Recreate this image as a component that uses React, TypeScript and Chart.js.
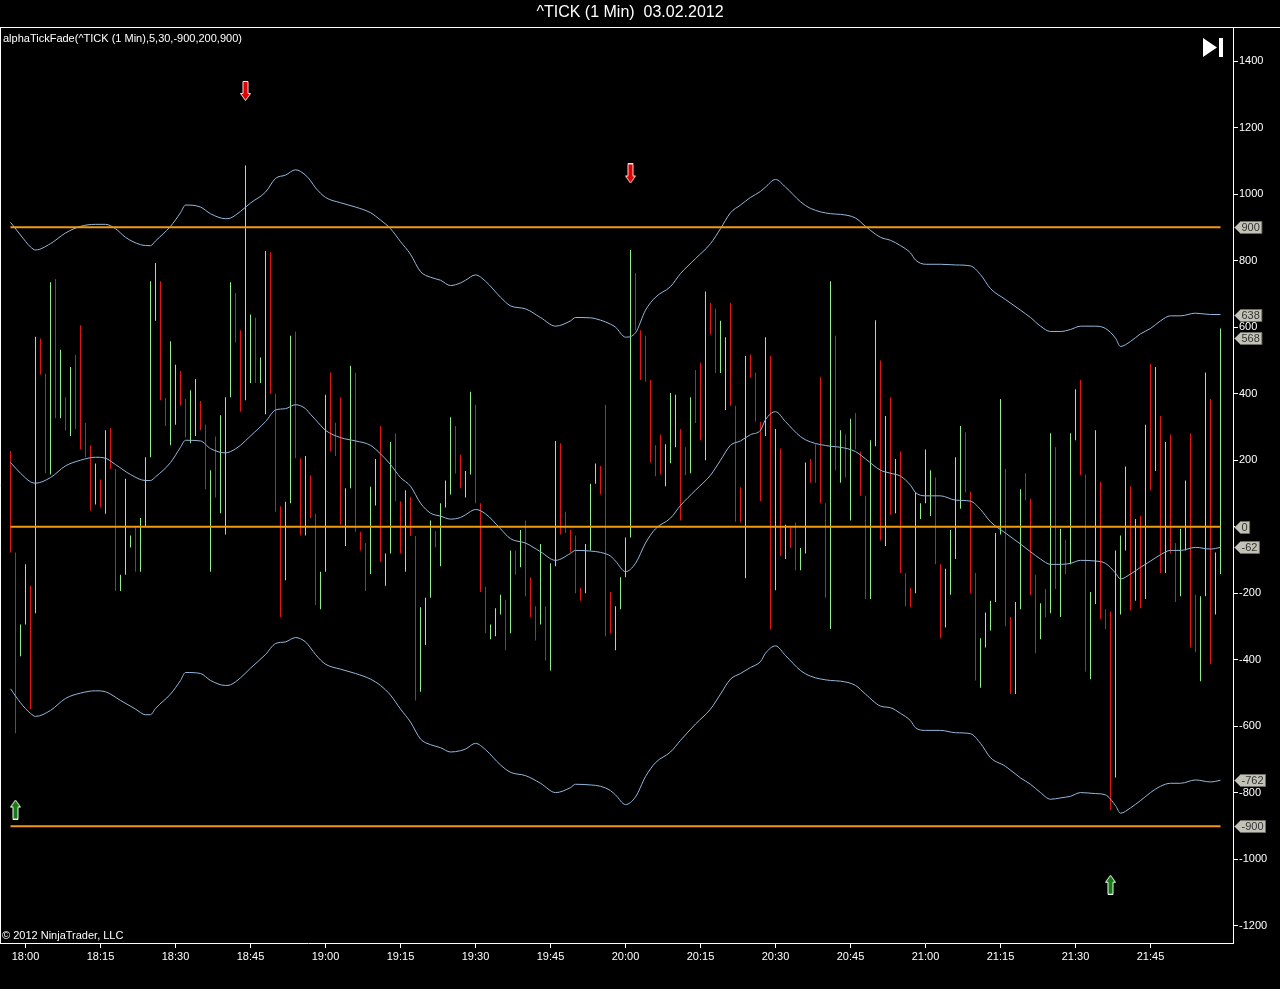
import React, { useEffect, useRef } from 'react';
import { Chart, registerables } from 'chart.js';

Chart.register(...registerables);

// ---------- data (bar index 0 = 17:57, one bar per minute) ----------
const BAR_HIGH = [
  228, -77, -294, -113, -177, 571, 566, 460, 735, 745,
  532, 389, 480, 516, 606, 313, 245, 190, 142, 290,
  297, 174, -144, 144, -26, 0, 26, 209, 738, 793,
  738, 387, 558, 487, 468, 384, 410, 444, 378, 307,
  170, 271, 335, 389, 735, 703, 591, 1086, 638, 628,
  509, 829, 825, 400, 62, 75, 574, 587, 206, 213,
  155, 39, -135, 397, 464, 313, 389, 116, 484, 464,
  -15, -49, 120, 204, 303, -80, 255, 281, 77, 110,
  90, -28, -242, -213, 19, -13, 71, 139, 329, 303,
  217, 168, 406, 367, 71, -180, -294, -245, -204, -219,
  -71, -71, -10, 19, -152, -239, -52, -239, -110, 258,
  251, 45, -10, -26, -183, -52, 129, 190, 183, 367,
  -196, -239, -152, -32, 832, 763, 591, 574, 441, 245,
  277, 248, 402, 397, 294, 239, 389, 471, 493, 707,
  673, 655, 619, 570, 673, 364, 119, 513, 518, 464,
  316, 570, 513, 294, 235, 6, 0, 13, -64, 193,
  204, 248, 451, 71, 738, 574, 290, 277, 325, 342,
  226, 93, 260, 621, 500, 333, 389, 204, 226, -139,
  -183, 103, 71, 232, 170, 148, -113, -126, -10, 209,
  303, 284, 106, -139, -335, -258, -222, -19, 384, 174,
  -271, -226, 113, 161, 84, -144, -230, -187, 281, 239,
  -6, -39, 281, 413, 441, 157, -196, 290, 135, -248,
  -255, -71, -26, 181, 122, 23, 32, 307, 490, 480,
  333, 255, 277, -49, -6, 139, 281, -204, -209, 464,
  384, -77, 596,
];

const BAR_LOW = [
  -77, -621, -389, -294, -548, -260, 458, 161, 157, 326,
  326, 290, 273, 294, 232, 209, 49, 67, 58, 39,
  174, -193, -193, -144, -62, -135, -135, 0, 209, 619,
  380, 303, 245, 307, 364, 268, 251, 273, 290, 113,
  -135, 88, 41, -23, 389, 554, 346, 380, 432, 432,
  432, 338, 400, 45, -271, -161, 71, 206, -26, -26,
  26, -235, -248, -135, 226, 213, 6, -58, 116, -15,
  -71, -193, -142, 64, -106, -177, -80, 77, -80, -135,
  -28, -522, -496, -355, -213, -62, -119, 58, 97, 160,
  116, 88, 157, 71, -196, -320, -338, -329, -264, -371,
  -320, -144, -122, -209, -271, -342, -294, -402, -432, -119,
  -23, -19, -77, -200, -222, -200, -71, 129, 97, -329,
  -320, -371, -248, -152, -32, 591, 441, 436, 193, 152,
  157, 122, 191, 239, 19, 155, 161, 312, 260, 200,
  578, 462, 462, 351, 364, 15, 13, -155, 449, 316,
  77, 273, -309, -191, -88, -97, -64, -131, -131, -80,
  132, 132, 71, -213, -307, 170, 132, 148, 19, 232,
  93, -217, -217, 242, -41, -58, 36, 41, -139, -239,
  -242, -200, 23, 71, 32, -113, -335, -303, -204, -97,
  54, 103, -200, -462, -484, -363, -312, -226, -23, -299,
  -503, -503, -248, 80, -206, -380, -338, -273, -260, -187,
  -271, -142, -113, 260, 155, -436, -458, -232, -277, -307,
  -851, -754, -264, -71, -251, -222, -245, -217, 110, 168,
  -139, -139, -80, -226, -209, -71, -363, -377, -464, -209,
  -413, -264, -142,
];

// 1 = up bar (green), 0 = down bar (red)
const BAR_UP = [
  0, 0, 1, 1, 0, 1, 0, 0, 1, 0,
  1, 0, 1, 0, 0, 0, 0, 1, 0, 1,
  0, 0, 1, 1, 1, 0, 1, 1, 1, 1,
  0, 0, 1, 1, 0, 0, 1, 1, 0, 0,
  1, 0, 1, 1, 1, 0, 0, 1, 1, 0,
  1, 1, 0, 0, 0, 1, 1, 0, 0, 1,
  0, 0, 1, 1, 0, 0, 0, 1, 1, 0,
  0, 0, 1, 1, 0, 1, 1, 0, 0, 1,
  0, 0, 1, 1, 1, 0, 1, 1, 1, 0,
  0, 1, 1, 0, 0, 0, 1, 1, 1, 0,
  1, 0, 1, 0, 0, 0, 1, 0, 1, 1,
  0, 0, 0, 0, 0, 1, 1, 1, 0, 0,
  0, 1, 1, 1, 1, 0, 0, 0, 0, 0,
  0, 1, 1, 1, 0, 0, 1, 0, 0, 1,
  0, 0, 1, 1, 0, 0, 0, 1, 0, 0,
  0, 1, 0, 1, 0, 1, 0, 0, 1, 1,
  0, 0, 0, 0, 1, 0, 1, 0, 1, 0,
  0, 0, 1, 1, 0, 1, 0, 1, 0, 0,
  0, 1, 1, 1, 1, 0, 0, 1, 1, 1,
  1, 0, 0, 0, 1, 1, 1, 1, 1, 0,
  0, 1, 1, 0, 0, 0, 1, 0, 1, 0,
  1, 0, 1, 1, 0, 0, 1, 1, 0, 0,
  0, 1, 1, 1, 0, 1, 0, 1, 0, 1,
  0, 1, 0, 0, 1, 1, 0, 0, 1, 1,
  0, 1, 1,
];

// [bar index, value]
const UPPER_BAND = [
  [0, 915], [2, 877], [4, 841], [5, 832], [8, 851], [11, 883], [14, 903], [17, 909], [19, 909], [21, 896], [23, 870], [26, 848], [28, 845], [29, 859],
  [32, 903], [34, 944], [35, 967], [38, 961], [40, 941], [43, 926], [44, 928], [46, 948], [48, 973], [51, 1006], [53, 1047], [55, 1057], [57, 1073], [59, 1057], [60, 1040],
  [61, 1019], [63, 990], [66, 974], [69, 961], [72, 944], [74, 922], [76, 896], [78, 857], [80, 819], [82, 767], [84, 750], [86, 741], [88, 725], [90, 733],
  [91, 741], [93, 757], [95, 738], [98, 690], [100, 664], [103, 655], [106, 629], [109, 603], [112, 619], [113, 629], [116, 628], [118, 621], [120, 609],
  [121, 600], [123, 570], [125, 583], [127, 651], [129, 690], [132, 722], [134, 761], [137, 806], [140, 851], [142, 896], [144, 944], [146, 967], [148, 990], [150, 1008],
  [151, 1021], [153, 1044], [155, 1021], [158, 977], [160, 957], [164, 941], [166, 939], [169, 928], [171, 903], [174, 870], [176, 861], [178, 845], [180, 823],
  [181, 802], [183, 789], [186, 789], [189, 787], [192, 784], [194, 758], [196, 716], [199, 683], [202, 651], [204, 629], [206, 603], [208, 587], [210, 587],
  [212, 593], [214, 603], [217, 603], [219, 596], [221, 567], [222, 542], [224, 557], [226, 580], [228, 596], [230, 619], [232, 634], [234, 634], [237, 642], [240, 638], [242, 638],
];

const MIDDLE_LINE = [
  [0, 193], [2, 161], [4, 135], [5, 131], [8, 148], [11, 183], [14, 200], [17, 209], [19, 206], [21, 187], [24, 157], [27, 139], [28, 139], [29, 150],
  [32, 193], [34, 239], [35, 260], [38, 258], [40, 235], [43, 222], [44, 226], [46, 245], [48, 273], [51, 316], [53, 351], [55, 355], [57, 367], [59, 355], [60, 338],
  [61, 322], [63, 290], [66, 268], [69, 258], [72, 245], [74, 219], [76, 187], [78, 148], [80, 122], [82, 71], [84, 41], [86, 32], [88, 23], [90, 28],
  [91, 36], [93, 52], [95, 39], [98, -6], [100, -36], [103, -49], [106, -75], [109, -101], [112, -80], [113, -71], [116, -73], [118, -77], [120, -88],
  [121, -103], [123, -135], [125, -110], [127, -49], [129, -6], [132, 26], [134, 64], [137, 110], [140, 155], [142, 200], [144, 245], [146, 258], [148, 277], [150, 290],
  [151, 322], [153, 346], [155, 316], [158, 271], [160, 255], [164, 242], [166, 239], [169, 226], [171, 204], [174, 170], [176, 161], [178, 152], [180, 125],
  [181, 103], [183, 93], [186, 93], [189, 80], [192, 77], [194, 52], [196, 15], [199, -19], [202, -52], [204, -75], [206, -97], [208, -113], [210, -113],
  [212, -110], [214, -101], [217, -103], [219, -110], [221, -139], [222, -157], [224, -142], [226, -122], [228, -103], [230, -84], [232, -71], [234, -71], [237, -62], [240, -67], [242, -62],
];

const LOWER_BAND = [
  [0, -487], [2, -529], [4, -561], [5, -570], [8, -552], [11, -516], [14, -500], [17, -493], [19, -496], [22, -522], [25, -548], [27, -565], [28, -565], [29, -546],
  [32, -503], [34, -462], [35, -438], [38, -441], [40, -462], [43, -477], [44, -475], [46, -454], [48, -425], [51, -384], [53, -351], [55, -346], [57, -333], [59, -346], [60, -364],
  [61, -384], [63, -413], [66, -428], [69, -441], [72, -458], [74, -477], [76, -506], [78, -548], [80, -587], [82, -638], [84, -655], [86, -664], [88, -677], [90, -673],
  [91, -668], [93, -651], [95, -670], [98, -716], [100, -738], [103, -748], [106, -771], [109, -799], [112, -784], [113, -774], [116, -776], [118, -780], [120, -793],
  [121, -806], [123, -835], [125, -812], [127, -751], [129, -709], [132, -677], [134, -642], [137, -593], [140, -548], [142, -503], [144, -458], [146, -441], [148, -423], [150, -405],
  [151, -380], [153, -358], [155, -387], [158, -432], [160, -449], [164, -462], [166, -464], [169, -477], [171, -503], [174, -539], [176, -544], [178, -561], [180, -583],
  [181, -604], [183, -612], [186, -612], [189, -619], [192, -622], [194, -651], [196, -694], [199, -720], [202, -755], [204, -774], [206, -799], [208, -819], [210, -815],
  [212, -810], [214, -799], [217, -802], [219, -806], [221, -838], [222, -861], [224, -845], [226, -823], [228, -799], [230, -780], [232, -771], [234, -771], [237, -761], [240, -767], [242, -762],
];

const LEVELS = [900, 0, -900];
const LEVEL_SPAN = [0, 242]; // first and last bar index

const SIGNAL_DOWN = [[47, 1310], [124, 1062]];
const SIGNAL_UP = [[1, -850], [220, -1076]];

const TIME_TICK_BARS = [3, 18, 33, 48, 63, 78, 93, 108, 123, 138, 153, 168, 183, 198, 213, 228];
const TIME_LABELS = ['18:00', '18:15', '18:30', '18:45', '19:00', '19:15', '19:30', '19:45', '20:00', '20:15', '20:30', '20:45', '21:00', '21:15', '21:30', '21:45'];
const PRICE_TICKS = [1400, 1200, 1000, 800, 600, 400, 200, 0, -200, -400, -600, -800, -1000, -1200];
const TAG_VALUES = [900, 638, 568, 0, -62, -762, -900];

const TITLE = '^TICK (1 Min)  03.02.2012';
const INDICATOR_LABEL = 'alphaTickFade(^TICK (1 Min),5,30,-900,200,900)';
const COPYRIGHT = '© 2012 NinjaTrader, LLC';

// ---------- styles ----------
const FONT = '"Liberation Sans", Arial, sans-serif';
const GREEN = '#90EE90';
const RED = '#E01515';
const BLUE = '#93B8DC';
const ORANGE = '#F09A14';

function makeArrow(up: boolean, fill: string, edge: string) {
  const c = document.createElement('canvas');
  c.width = 11;
  c.height = 20;
  const g = c.getContext('2d')!;
  if (up) {
    g.translate(0, 20);
    g.scale(1, -1);
  }
  g.beginPath();
  g.moveTo(3, 0.5);
  g.lineTo(8, 0.5);
  g.lineTo(8, 12.5);
  g.lineTo(10.5, 12.5);
  g.lineTo(5.5, 19.5);
  g.lineTo(0.5, 12.5);
  g.lineTo(3, 12.5);
  g.closePath();
  g.fillStyle = fill;
  g.fill();
  g.strokeStyle = edge;
  g.lineWidth = 1;
  g.stroke();
  return c;
}

const overlayPlugin = {
  id: 'overlay',
  afterDraw(chart: any) {
    const ctx = chart.ctx as CanvasRenderingContext2D;
    const ca = chart.chartArea;
    const yScale = chart.scales.y;
    ctx.save();
    // frame
    ctx.strokeStyle = '#ffffff';
    ctx.lineWidth = 1;
    ctx.beginPath();
    ctx.moveTo(0, 27.5);
    ctx.lineTo(chart.width, 27.5);
    ctx.moveTo(0.5, 27.5);
    ctx.lineTo(0.5, ca.bottom);
    ctx.stroke();

    // title
    ctx.fillStyle = '#ffffff';
    ctx.textBaseline = 'middle';
    ctx.textAlign = 'center';
    ctx.font = `16px ${FONT}`;
    ctx.fillText(TITLE, 630, 13);

    ctx.textAlign = 'left';
    ctx.font = `11px ${FONT}`;
    ctx.fillText(INDICATOR_LABEL, 3, 39);
    ctx.fillText(COPYRIGHT, 2, 936);

    // "go to end" icon
    ctx.beginPath();
    ctx.moveTo(1203, 38);
    ctx.lineTo(1217, 47.5);
    ctx.lineTo(1203, 57);
    ctx.closePath();
    ctx.fill();
    ctx.fillRect(1219, 38, 4, 19);

    // value tags on the price axis
    ctx.font = `11px ${FONT}`;
    TAG_VALUES.forEach((v) => {
      const py = Math.round(yScale.getPixelForValue(v)) + 0.5;
      const txt = String(v);
      const w = ctx.measureText(txt).width;
      const x0 = ca.right + 1.5;
      ctx.beginPath();
      ctx.moveTo(x0, py);
      ctx.lineTo(x0 + 6, py - 6);
      ctx.lineTo(x0 + 9 + w, py - 6);
      ctx.lineTo(x0 + 9 + w, py + 6);
      ctx.lineTo(x0 + 6, py + 6);
      ctx.closePath();
      ctx.fillStyle = '#C2C2B6';
      ctx.fill();
      ctx.strokeStyle = '#6E6E66';
      ctx.stroke();
      ctx.fillStyle = '#333333';
      ctx.fillText(txt, x0 + 7, py + 0.5);
    });
    ctx.restore();
  },
};

export default function App() {
  const ref = useRef<HTMLCanvasElement>(null);

  useEffect(() => {
    document.body.style.margin = '0';
    document.body.style.background = '#000000';
    const canvas = ref.current!;
    const downArrow = makeArrow(false, '#E00000', '#FFD8D8');
    const upArrow = makeArrow(true, '#167A16', '#F0FFF0');
    const toXY = (arr: number[][]) => arr.map(([x, y]) => ({ x, y }));

    const barData = BAR_HIGH.map((h, i) => ({ x: i, y: [BAR_LOW[i], h] }));
    const barColors = BAR_UP.map((u) => (u ? GREEN : RED));

    const lineBase = {
      type: 'line' as const,
      borderWidth: 1,
      pointRadius: 0,
      cubicInterpolationMode: 'monotone' as const,
      borderColor: BLUE,
      fill: false,
      order: 2,
    };

    const chart = new Chart(canvas, {
      type: 'bar',
      data: {
        datasets: [
          {
            type: 'line',
            data: toXY(SIGNAL_DOWN),
            showLine: false,
            pointStyle: downArrow,
            pointRadius: 1,
            pointBorderWidth: 0,
            order: 0,
          } as any,
          {
            type: 'line',
            data: toXY(SIGNAL_UP),
            showLine: false,
            pointStyle: upArrow,
            pointRadius: 1,
            pointBorderWidth: 0,
            order: 0,
          } as any,
          ...LEVELS.map((v) => ({
            type: 'line' as const,
            data: [{ x: LEVEL_SPAN[0], y: v }, { x: LEVEL_SPAN[1], y: v }],
            borderColor: ORANGE,
            borderWidth: 2,
            pointRadius: 0,
            order: 1,
          })),
          { ...lineBase, data: toXY(UPPER_BAND) },
          { ...lineBase, data: toXY(MIDDLE_LINE) },
          { ...lineBase, data: toXY(LOWER_BAND) },
          {
            type: 'bar',
            data: barData,
            backgroundColor: barColors,
            borderWidth: 0,
            barThickness: 1,
            inflateAmount: 0,
            order: 3,
          } as any,
        ],
      },
      options: {
        animation: false,
        responsive: false,
        events: [],
        layout: { autoPadding: false, padding: { top: 28, left: 0, right: 0, bottom: 0 } },
        plugins: {
          legend: { display: false },
          tooltip: { enabled: false },
          title: { display: false },
        },
        scales: {
          x: {
            type: 'linear',
            min: -2.1,
            max: 244.5,
            offset: false,
            afterBuildTicks: (s: any) => {
              s.ticks = TIME_TICK_BARS.map((v) => ({ value: v }));
            },
            afterFit: (s: any) => {
              s.height = 46;
              s.paddingLeft = 0;
              s.paddingRight = 0;
            },
            ticks: {
              color: '#ffffff',
              font: { family: FONT, size: 11 },
              padding: 2,
              maxRotation: 0,
              minRotation: 0,
              autoSkip: false,
              callback: (v: any) => {
                const k = TIME_TICK_BARS.indexOf(Number(v));
                return k >= 0 ? TIME_LABELS[k] : '';
              },
            },
            grid: { display: true, offset: false, drawOnChartArea: false, drawTicks: true, tickLength: 5, color: '#ffffff' },
            border: { display: true, color: '#ffffff', width: 1 },
          },
          y: {
            type: 'linear',
            position: 'right',
            min: -1251.1,
            max: 1499.2,
            afterBuildTicks: (s: any) => {
              s.ticks = PRICE_TICKS.map((v) => ({ value: v }));
            },
            afterFit: (s: any) => {
              s.width = 47;
              s.paddingTop = 0;
              s.paddingBottom = 0;
            },
            ticks: {
              color: '#ffffff',
              font: { family: FONT, size: 11 },
              padding: 1,
              callback: (v: any) => String(v),
            },
            grid: { display: true, drawOnChartArea: false, drawTicks: true, tickLength: 5, color: '#ffffff' },
            border: { display: true, color: '#ffffff', width: 1 },
          },
        },
      } as any,
      plugins: [overlayPlugin],
    });

    return () => chart.destroy();
  }, []);

  return (
    <div style={{ width: 1280, height: 989, background: '#000000' }}>
      <canvas ref={ref} width={1280} height={989} style={{ display: 'block' }} />
    </div>
  );
}
